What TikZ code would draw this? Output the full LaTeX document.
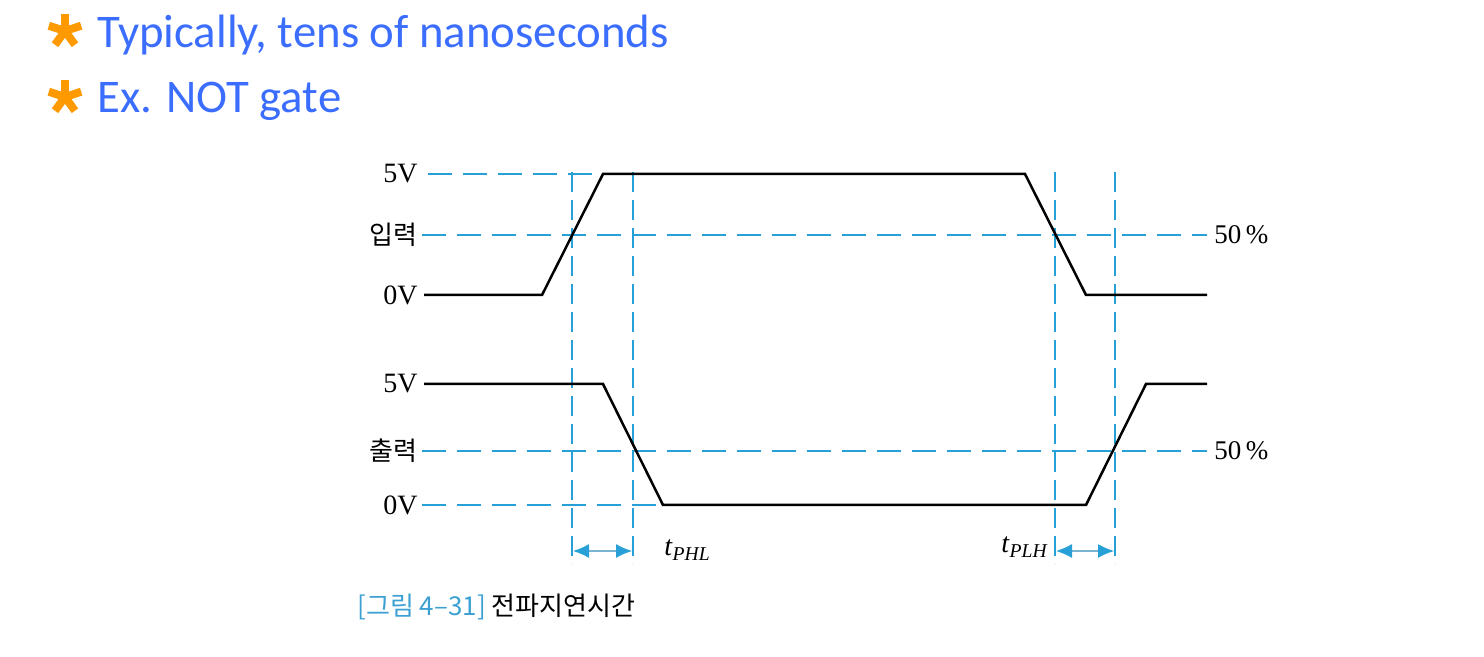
\documentclass[tikz,border=0pt]{standalone}
\usepackage{fontspec}
\setmainfont{Liberation Serif}
\newfontfamily\titlefont{Carlito}
\newfontfamily\kr{Noto Sans CJK KR}
\usetikzlibrary{arrows.meta}
\definecolor{titleblue}{RGB}{59,110,255}
\definecolor{starorange}{RGB}{255,153,0}
\definecolor{guide}{RGB}{38,160,214}
\definecolor{capblue}{RGB}{60,160,210}
\definecolor{shaft}{RGB}{120,180,210}
\tikzset{
  wave/.style={line width=1.25pt, black, line join=miter},
  guideline/.style={line width=1.2pt, guide, dash pattern=on 12pt off 5.5pt},
  vguide/.style={line width=1.2pt, guide, dash pattern=on 10pt off 4pt},
  lbl/.style={anchor=east, inner sep=0pt, font=\fontsize{14}{16}\selectfont},
  krlbl/.style={anchor=east, inner sep=0pt, font=\kr\fontsize{13}{15}\selectfont},
  pct/.style={anchor=west, inner sep=0pt, font=\fontsize{13.5}{16}\selectfont},
  title/.style={anchor=base west, inner sep=0pt, text=titleblue, font=\titlefont\fontsize{23.4}{26}\selectfont},
  stararm/.style={line width=4pt, starorange},
  dim/.style={shaft, line width=0.6pt, {Latex[length=8pt,width=7pt,color=guide]}-{Latex[length=8pt,width=7pt,color=guide]}},
  tlbl/.style={inner sep=0pt, font=\fontsize{14}{16}\selectfont}
}
\begin{document}
\begin{tikzpicture}[x=0.5pt,y=-0.5pt]
\useasboundingbox (0,0) rectangle (1484,657);
% header stars
\coordinate (s1) at (65,31);
\coordinate (s2) at (65,97);
\foreach \c in {s1,s2}{
  \foreach \a in {-90,-18,54,126,198}{
    \draw[stararm] (\c) -- ++(\a:17);
  }
}
\node[title] (t1) at (97,48) {Typically, tens of nanoseconds};
\node[title] (t2) at (97,113) {Ex. NOT gate};
% labels
\node[lbl] (in5) at (418,174) {5V};
\node[krlbl] (inm) at (418,235) {입력};
\node[lbl] (in0) at (418,295) {0V};
\node[lbl] (out5) at (418,384) {5V};
\node[krlbl] (outm) at (418,451) {출력};
\node[lbl] (out0) at (418,505) {0V};
\node[pct] (p1) at (1214,235) {50\,\%};
\node[pct] (p2) at (1214,451) {50\,\%};
% key points
\coordinate (a0) at (424,295);
\coordinate (a1) at (542,295);
\coordinate (a2) at (603,174);
\coordinate (a3) at (1025,174);
\coordinate (a4) at (1086,295);
\coordinate (a5) at (1207,295);
\coordinate (b0) at (424,384);
\coordinate (b1) at (603,384);
\coordinate (b2) at (663,505);
\coordinate (b3) at (1086,505);
\coordinate (b4) at (1146,384);
\coordinate (b5) at (1207,384);
% guides horizontal
\draw[guideline] (428,174) -- (a2);
\draw[guideline] (inm.east) ++(4,0) -- (1207,235);
\draw[guideline] (outm.east) ++(4,0) -- (1207,451);
\draw[guideline] (out0.east) ++(4,0) -- (b2);
% guides vertical
\foreach \x/\n in {572/v1,633/v2,1055/v3,1115/v4}{
  \coordinate (\n t) at (\x,172);
  \coordinate (\n b) at (\x,564);
  \draw[vguide] (\n t) -- (\n b);
}
% waveforms
\draw[wave] (a0) -- (a1) -- (a2) -- (a3) -- (a4) -- (a5);
\draw[wave] (b0) -- (b1) -- (b2) -- (b3) -- (b4) -- (b5);
% dimension arrows
\coordinate (d1) at (573,551);
\coordinate (d2) at (632,551);
\coordinate (d3) at (1056,551);
\coordinate (d4) at (1114,551);
\draw[dim] (d1) -- (d2);
\draw[dim] (d3) -- (d4);
\node[tlbl, anchor=west] (tphl) at (664,550) {\textit{t}\textsubscript{\textit{PHL}}};
\node[tlbl, anchor=east] (tplh) at (1049,547) {\textit{t}\textsubscript{\textit{PLH}}};
% caption
\node[anchor=base west, inner sep=0pt, font=\kr\fontsize{13}{15}\selectfont] (cap) at (357,616) {\textcolor{capblue}{[그림 4–31]} 전파지연시간};
\end{tikzpicture}
\end{document}
